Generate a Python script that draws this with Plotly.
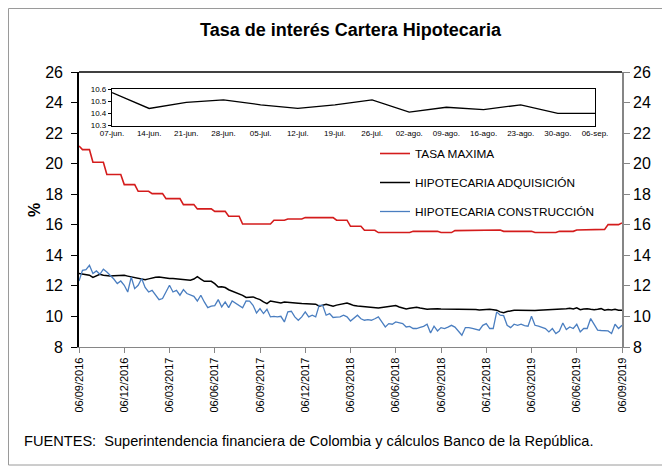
import pandas as pd
import plotly.graph_objects as go

# ---------------- data (weekly, 09/2016 - 09/2019) ----------------
TASA_MAXIMA = (
    [21.16] + [20.92] * 3 + [20.09] * 4 + [19.29] * 5 + [18.63] * 4 + [18.19] * 4 +
    [18.04] * 4 + [17.71] * 5 + [17.32] * 4 + [17.04] * 5 + [16.88] * 4 + [16.56] * 4 +
    [16.05] * 9 + [16.30] * 4 + [16.38] * 5 + [16.47] * 9 + [16.30] * 4 + [15.90] * 4 +
    [15.64] * 4 + [15.49] * 10 + [15.57] * 8 + [15.49] * 4 + [15.62] * 5 + [15.66] * 9 +
    [15.57] * 9 + [15.49] * 7 + [15.57] * 5 + [15.66] * 4 + [15.70] * 5 + [16.01] * 4 +
    [16.12]
)

HIP_ADQUISICION = [
    12.81, 12.79, 12.77, 12.70, 12.55, 12.65, 12.76, 12.70, 12.66, 12.65,
    12.66, 12.67, 12.66, 12.69, 12.64, 12.60, 12.56, 12.52, 12.47, 12.41,
    12.46, 12.52, 12.56, 12.58, 12.53, 12.50, 12.48, 12.48, 12.45, 12.43,
    12.41, 12.41, 12.37, 12.45, 12.60, 12.45, 12.30, 12.31, 12.30, 12.15,
    11.93, 11.95, 11.89, 11.75, 11.65, 11.58, 11.50, 11.38, 11.24, 11.26,
    11.28, 11.18, 11.10, 10.95, 10.84, 11.01, 10.95, 10.90, 10.88, 10.95,
    10.92, 10.90, 10.88, 10.87, 10.85, 10.84, 10.83, 10.82, 10.80, 10.67,
    10.74, 10.80, 10.73, 10.67, 10.74, 10.80, 10.84, 10.88, 10.80, 10.71,
    10.68, 10.66, 10.64, 10.62, 10.60, 10.58, 10.56, 10.59, 10.62, 10.65,
    10.67, 10.71, 10.62, 10.55, 10.49, 10.53, 10.57, 10.60, 10.55, 10.50,
    10.47, 10.49, 10.51, 10.50, 10.49, 10.49, 10.48, 10.47, 10.47, 10.47,
    10.48, 10.49, 10.49, 10.47, 10.45, 10.43, 10.45, 10.46, 10.47, 10.44,
    10.41, 10.30, 10.25, 10.32, 10.38, 10.40, 10.41, 10.40, 10.39, 10.38,
    10.38, 10.39, 10.40, 10.41, 10.41, 10.42, 10.43, 10.44, 10.45, 10.48,
    10.51, 10.53, 10.49,
    10.57, 10.44, 10.49, 10.51, 10.47, 10.44, 10.47, 10.51, 10.41, 10.45,
    10.43, 10.47, 10.40, 10.40,
]

HIP_CONSTRUCCION = [
    12.32, 13.02, 13.07, 13.35, 12.81, 12.98, 12.76, 13.09, 12.91, 12.69,
    12.45, 12.15, 12.32, 12.04, 11.60, 12.58, 11.82, 12.04, 12.48, 11.90,
    11.60, 11.71, 11.40, 11.10, 11.17, 11.60, 12.04, 11.60, 11.71, 11.39,
    11.76, 11.50, 11.39, 11.32, 11.01, 11.39, 10.95, 10.58, 10.67, 10.71,
    11.10, 10.62, 10.95, 10.58, 11.01, 10.84, 10.67, 10.56, 11.01, 11.00,
    10.73, 10.23, 10.51, 10.19, 10.47, 9.97, 10.00, 9.97, 10.01, 9.64,
    10.30, 10.34, 9.97, 9.75, 9.97, 10.30, 9.97, 10.08, 9.97, 10.73,
    10.73, 10.08, 10.19, 9.93, 9.95, 9.97, 10.08, 9.97, 9.70, 9.90,
    10.08, 9.85, 9.75, 9.79, 9.75, 9.85, 9.97, 9.64, 9.31, 9.53,
    9.49, 9.64, 9.60, 9.53, 9.31, 9.35, 9.21, 9.21, 9.28, 9.35,
    9.49, 8.92, 9.36, 9.05, 9.27, 9.21, 9.30, 9.42, 9.30, 9.05,
    8.77, 9.27, 9.27, 9.22, 9.18, 9.10, 9.42, 9.53, 9.21, 9.21,
    10.30, 10.08, 10.05, 9.42, 9.27, 9.49, 9.42, 9.49, 9.40, 9.36,
    10.01, 9.42, 9.36, 9.31, 9.21, 8.99, 9.21, 8.88, 9.05, 9.57,
    9.14, 9.31, 9.21, 9.49, 8.99, 9.21, 9.21, 9.86, 9.50, 9.10,
    9.08, 9.05, 9.05, 8.88, 9.49, 9.21, 9.42,
]

DATES = pd.date_range(end="2019-09-06", periods=len(TASA_MAXIMA), freq="7D")

TICK_LABELS = [
    "06/09/2016", "06/12/2016", "06/03/2017", "06/06/2017", "06/09/2017",
    "06/12/2017", "06/03/2018", "06/06/2018", "06/09/2018", "06/12/2018",
    "06/03/2019", "06/06/2019", "06/09/2019",
]

INSET_LABELS = [
    "07-jun.", "14-jun.", "21-jun.", "28-jun.", "05-jul.", "12-jul.", "19-jul.",
    "26-jul.", "02-ago.", "09-ago.", "16-ago.", "23-ago.", "30-ago.", "06-sep.",
]
INSET_VALUES = HIP_ADQUISICION[-len(INSET_LABELS):]

SERIES_NAMES = ["TASA MAXIMA", "HIPOTECARIA ADQUISICIÓN", "HIPOTECARIA CONSTRUCCIÓN"]
COLORS = ["#d41c1c", "#000000", "#4a7ec0"]

# ---------------- figure ----------------
# page body has an 8px margin: the figure is drawn 8px in from the window edge
OFF = 8
WIN_W, WIN_H = 670, 468
W, H = WIN_W - OFF, WIN_H - OFF
# plot area in window pixels: x 79..622, y 72..347
PX_L, PX_R, PX_T, PX_B = 79, 622, 72, 347
L, R, T, B = PX_L - OFF, WIN_W - PX_R, PX_T - OFF, WIN_H - PX_B
pw, ph = PX_R - PX_L, PX_B - PX_T


def px_x(px):
    return (px - PX_L) / pw


def px_y(py):
    return (PX_B - py) / ph


fig = go.Figure()
for name, vals, col, lw in zip(SERIES_NAMES,
                               [TASA_MAXIMA, HIP_ADQUISICION, HIP_CONSTRUCCION],
                               COLORS, [1.6, 1.5, 1.3]):
    fig.add_trace(go.Scatter(x=DATES, y=vals, mode="lines", name=name,
                             legendgroup=name,
                             line=dict(color=col, width=lw)))

# invisible trace to carry the right-hand axis
fig.add_trace(go.Scatter(x=DATES, y=TASA_MAXIMA, yaxis="y2", mode="lines",
                         line=dict(width=0), opacity=0, showlegend=False,
                         hoverinfo="skip"))

# inset
fig.add_trace(go.Scatter(x=INSET_LABELS, y=INSET_VALUES, xaxis="x3", yaxis="y3",
                         mode="lines", line=dict(color="#000000", width=1.3),
                         showlegend=False))

tick_dates = list(DATES[::13])

fig.update_layout(
    width=W, height=H,
    margin=dict(l=L, r=R, t=T, b=B, autoexpand=False),
    paper_bgcolor="white", plot_bgcolor="white",
    font=dict(family="Liberation Sans, Arial, sans-serif", color="#000000"),
    title=dict(text="<b>Tasa de interés Cartera Hipotecaria</b>",
               font=dict(family="Liberation Sans Narrow, Arial Narrow, Liberation Sans",
                         size=18, color="#000000"),
               x=0.5, xref="paper", xanchor="center",
               y=1 - (30 - OFF) / H, yref="container", yanchor="middle"),
    showlegend=True,
    legend=dict(x=px_x(375), y=px_y(139), xanchor="left", yanchor="top",
                bgcolor="rgba(0,0,0,0)", font=dict(size=11.8),
                tracegroupgap=10, traceorder="grouped", itemwidth=30),
    xaxis=dict(type="date", range=[DATES[0], DATES[-1]], automargin=False,
               tickvals=tick_dates, ticktext=TICK_LABELS, tickangle=-90,
               tickfont=dict(size=11),
               showline=True, linecolor="#868686", linewidth=1.3,
               ticks="outside", ticklen=5, tickcolor="#868686", tickwidth=1.3,
               showgrid=False, zeroline=False),
    yaxis=dict(range=[8, 26], dtick=2, tickfont=dict(size=16), automargin=False,
               showline=True, linecolor="#000000", linewidth=1.6,
               ticks="outside", ticklen=6, tickcolor="#000000", tickwidth=1.3,
               ticklabelstandoff=5,
               showgrid=False, zeroline=False),
    yaxis2=dict(range=[8, 26], dtick=2, overlaying="y", side="right",
                tickfont=dict(size=16), automargin=False,
                showline=True, linecolor="#868686", linewidth=1.6,
                ticks="outside", ticklen=6, tickcolor="#868686", tickwidth=1.3,
                showgrid=False, zeroline=False),
    xaxis3=dict(domain=[px_x(112), px_x(595)], anchor="y3", type="category",
                range=[0, len(INSET_LABELS) - 1], tickfont=dict(size=8),
                automargin=False,
                showline=True, mirror=True, linecolor="#000000", linewidth=1.2,
                ticks="", showgrid=False, zeroline=False),
    yaxis3=dict(domain=[px_y(125.5), px_y(89)], anchor="x3",
                range=[10.3, 10.6], dtick=0.1, tickformat=".1f",
                tickfont=dict(size=8), automargin=False,
                showline=True, mirror=True, linecolor="#000000", linewidth=1.2,
                ticks="outside", ticklen=3, tickcolor="#000000",
                showgrid=False, zeroline=False),
    shapes=[
        dict(type="line", xref="x domain", yref="y domain", x0=0, x1=1, y0=1, y1=1,
             line=dict(color="#000000", width=1.3)),
        dict(type="rect", xref="paper", yref="paper",
             x0=px_x(OFF + 0.5), x1=px_x(667), y0=px_y(465), y1=px_y(OFF + 0.5),
             line=dict(color="#9a9a9a", width=1)),
    ],
    annotations=[
        dict(text="<b>%</b>", xref="paper", yref="paper",
             x=px_x(34), y=px_y(210), xanchor="center", yanchor="middle",
             textangle=-90, showarrow=False, font=dict(size=16)),
        dict(text="FUENTES:  Superintendencia financiera de Colombia y cálculos Banco de la República.",
             xref="paper", yref="paper", x=px_x(22), y=px_y(441),
             xanchor="left", yanchor="middle", showarrow=False,
             font=dict(family="Liberation Sans Narrow, Arial Narrow, Liberation Sans",
                       size=14.6, color="#000000")),
    ],
)

fig.write_html("out.html")
